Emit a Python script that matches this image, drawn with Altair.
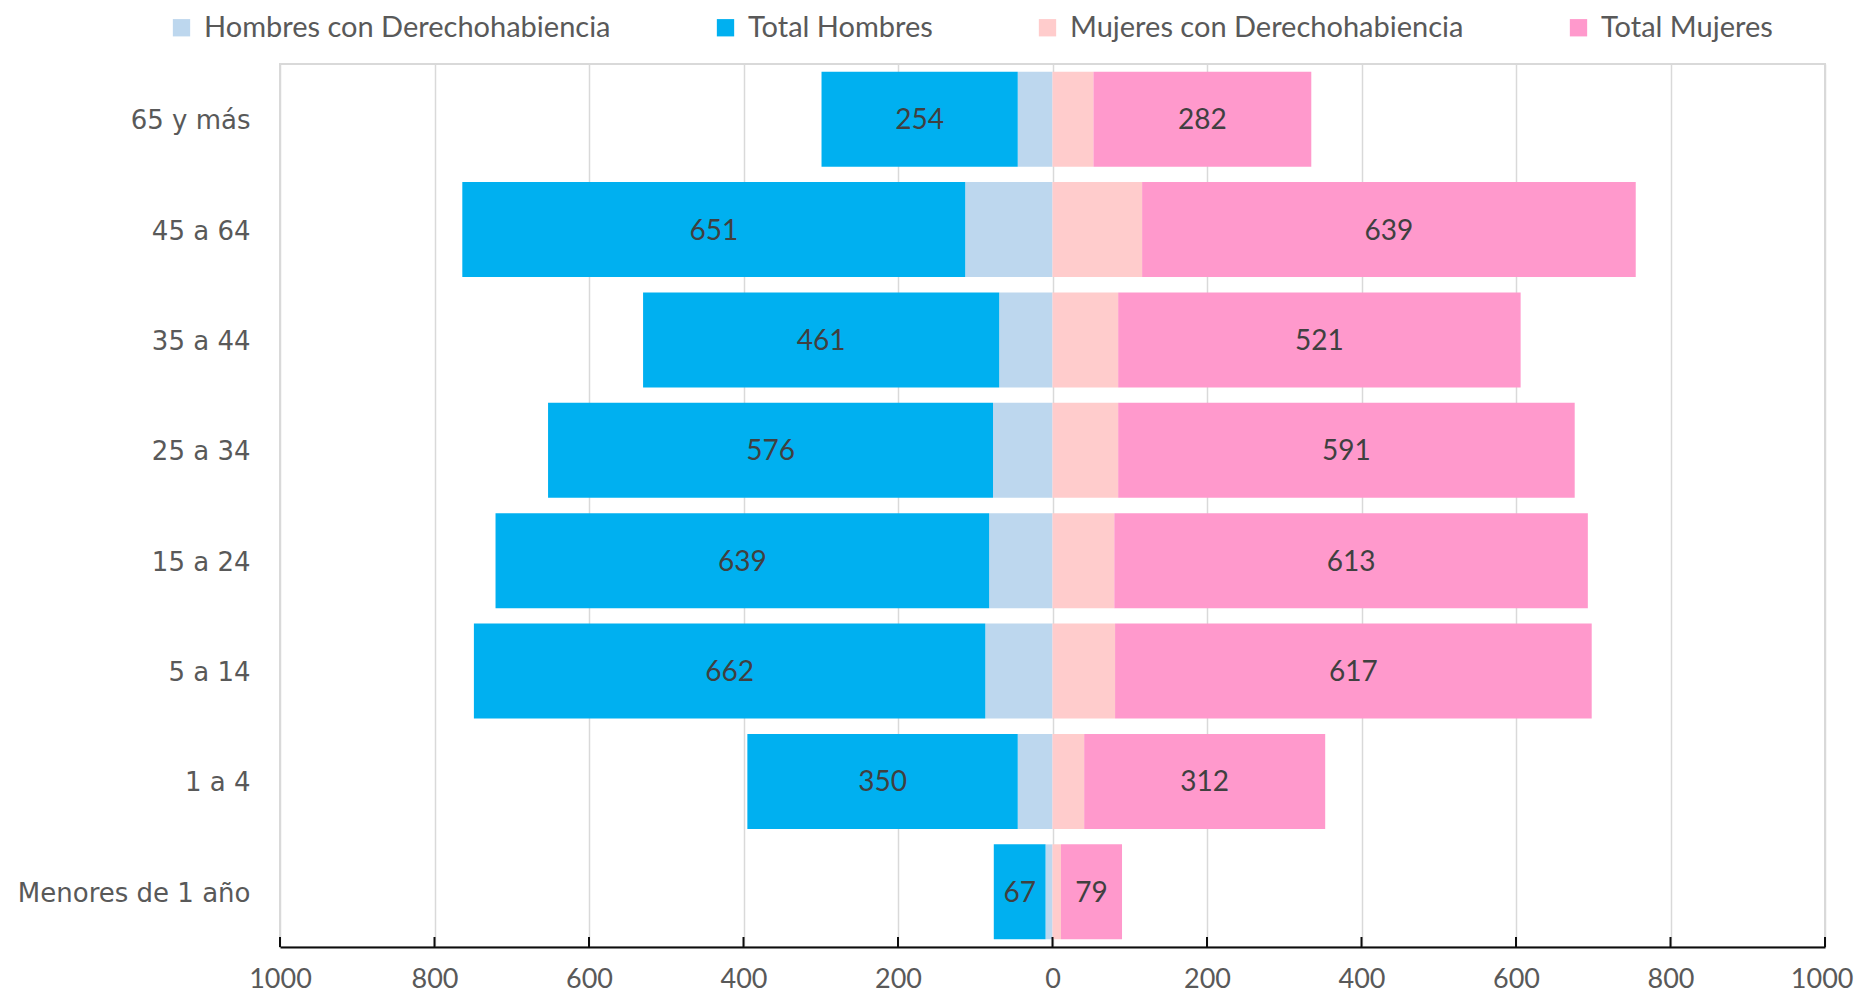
import altair as alt
import pandas as pd

grupos = ["65 y más", "45 a 64", "35 a 44", "25 a 34", "15 a 24", "5 a 14", "1 a 4", "Menores de 1 año"]
hombres_derecho = [45, 113, 69, 77, 82, 87, 45, 9]
total_hombres = [254, 651, 461, 576, 639, 662, 350, 67]
mujeres_derecho = [53, 116, 85, 85, 80, 81, 41, 11]
total_mujeres = [282, 639, 521, 591, 613, 617, 312, 79]
series = ["Hombres con Derechohabiencia", "Total Hombres", "Mujeres con Derechohabiencia", "Total Mujeres"]
colores = ["#BDD7EE", "#00B0F0", "#FFCCCC", "#FF99CC"]
ticks = [-1000, -800, -600, -400, -200, 0, 200, 400, 600, 800, 1000]

rows = []
for i, g in enumerate(grupos):
    hd, th, md, tm = hombres_derecho[i], total_hombres[i], mujeres_derecho[i], total_mujeres[i]
    rows.append(dict(grupo=g, serie=series[0], x0=0, x1=-hd, label=None, mid=None))
    rows.append(dict(grupo=g, serie=series[1], x0=-hd, x1=-(hd + th), label=str(th), mid=-(hd + th / 2)))
    rows.append(dict(grupo=g, serie=series[2], x0=0, x1=md, label=None, mid=None))
    rows.append(dict(grupo=g, serie=series[3], x0=md, x1=md + tm, label=str(tm), mid=md + tm / 2))
df = pd.DataFrame(rows)

W, H = 1545, 883
xscale = alt.Scale(domain=[-1000, 1000], nice=False, zero=False)
yscale = alt.Scale(domain=grupos, paddingInner=0.14, paddingOuter=0.07)

bars = alt.Chart(df).mark_bar().encode(
    y=alt.Y("grupo:N", scale=yscale, sort=grupos,
            axis=alt.Axis(title=None, ticks=False, domain=False, labelPadding=30, labelLimit=0,
                          labelOffset=2,
                          labelFont="DejaVu Sans", labelFontSize=26, labelColor="#595959")),
    x=alt.X("x0:Q", scale=xscale,
            axis=alt.Axis(title=None, values=ticks, labelExpr="abs(datum.value)", ticks=False,
                          labelFlush=False,
                          labelAlign={"condition": {"test": "datum.value == 1000", "value": "right"},
                                      "value": "center"},
                          labelOffset={"condition": {"test": "datum.value == 1000", "value": 28},
                                       "value": 0},
                          grid=True, gridColor="#D9D9D9", gridWidth=1.5,
                          domainColor="#0D0D0D", domainWidth=2,
                          labelFont="Lato", labelFontSize=27, labelColor="#595959",
                          labelPadding=19)),
    x2="x1:Q",
    color=alt.Color("serie:N", scale=alt.Scale(domain=series, range=colores),
                    legend=alt.Legend(title=None, orient="none", legendX=-113, legendY=-51,
                                      direction="horizontal", columns=4, columnPadding=100,
                                      symbolType="square", symbolSize=300, symbolStrokeWidth=0,
                                      labelFont="Lato", labelFontSize=29, labelColor="#595959",
                                      labelOffset=8, labelLimit=0)),
)

labels = alt.Chart(df).transform_filter("datum.label != null").mark_text(
    font="Lato", fontSize=28, color="#404040", baseline="middle", align="center", dy=2
).encode(
    y=alt.Y("grupo:N", scale=yscale, sort=grupos),
    x=alt.X("mid:Q", scale=xscale),
    text="label:N",
)

tick_df = pd.DataFrame({"t": ticks})
tick_marks = alt.Chart(tick_df).mark_rule(color="#0D0D0D", strokeWidth=2).encode(
    x=alt.X("t:Q", scale=xscale),
    y=alt.value(H - 10),
    y2=alt.value(H),
)

chart = alt.layer(bars, labels, tick_marks).properties(
    width=W, height=H,
    autosize=alt.AutoSizeParams(type="none"),
    padding={"left": 272, "top": 56, "right": 29, "bottom": 47},
).configure_view(stroke="#D9D9D9", strokeWidth=2)

chart.save("out.html", embed_options={"renderer": "svg", "actions": False})
